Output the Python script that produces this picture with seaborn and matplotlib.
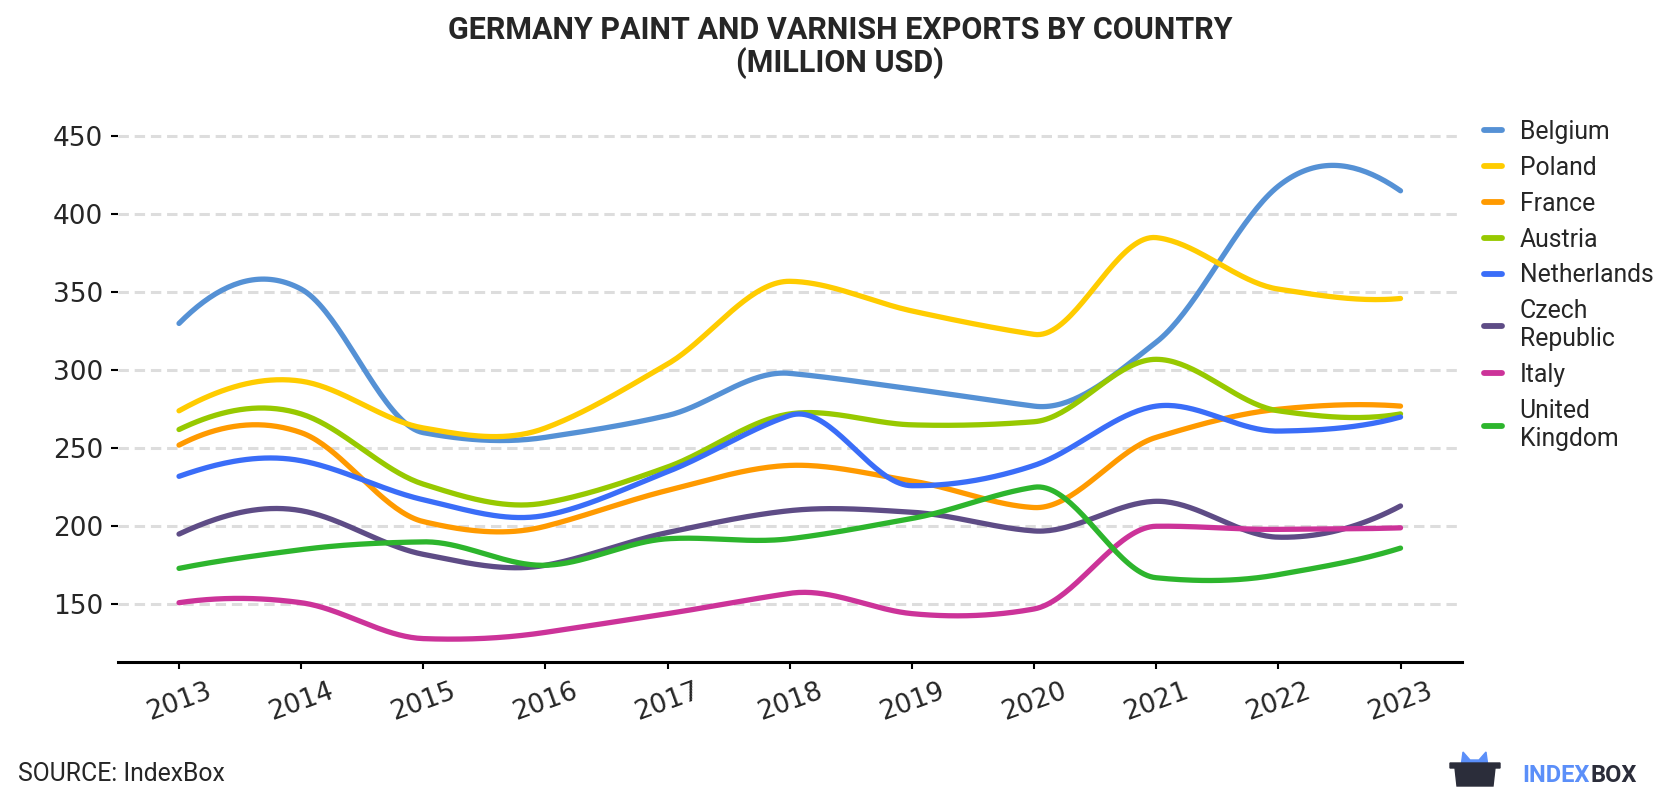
import numpy as np
import pandas as pd
import matplotlib
matplotlib.use("Agg")
import matplotlib.pyplot as plt
from matplotlib.patches import Polygon
from matplotlib.lines import Line2D
import seaborn as sns

years = [2013, 2014, 2015, 2016, 2017, 2018, 2019, 2020, 2021, 2022, 2023]

countries = ["Belgium", "Poland", "France", "Austria", "Netherlands",
             "Czech Republic", "Italy", "United Kingdom"]
legend_labels = ["Belgium", "Poland", "France", "Austria", "Netherlands",
                 "Czech\nRepublic", "Italy", "United\nKingdom"]

belgium = [330, 352, 260, 257, 271, 298, 288, 277, 318, 418, 415]
poland = [274, 293, 263, 263, 304, 357, 338, 323, 385, 352, 346]
france = [252, 260, 203, 200, 223, 239, 229, 212, 257, 275, 277]
austria = [262, 272, 227, 215, 238, 272, 265, 267, 307, 274, 272]
netherlands = [232, 242, 217, 207, 235, 271, 226, 239, 277, 261, 270]
czech = [195, 210, 182, 175, 196, 210, 209, 197, 216, 193, 213]
italy = [151, 151, 128, 132, 144, 157, 144, 147, 200, 198, 199]
uk = [173, 185, 190, 175, 192, 192, 205, 225, 167, 169, 186]

colors = ["#5591d5", "#ffcc00", "#ff9a00", "#97c900", "#3a6df8",
          "#5e4c86", "#cc3399", "#2db52d"]

series = [belgium, poland, france, austria, netherlands, czech, italy, uk]


def akima(x, y, n=40):
    # Akima spline through the yearly points, only used to draw the curve
    x = np.asarray(x, float)
    y = np.asarray(y, float)
    h = np.diff(x)
    m = np.diff(y) / h
    m = np.concatenate([[3 * m[0] - 2 * m[1], 2 * m[0] - m[1]], m,
                        [2 * m[-1] - m[-2], 3 * m[-1] - 2 * m[-2]]])
    t = np.zeros(len(x))
    for i in range(len(x)):
        w1 = abs(m[i + 3] - m[i + 2])
        w2 = abs(m[i + 1] - m[i])
        if w1 + w2 == 0:
            t[i] = (m[i + 1] + m[i + 2]) / 2
        else:
            t[i] = (w1 * m[i + 1] + w2 * m[i + 2]) / (w1 + w2)
    xs, ys = [], []
    for i in range(len(x) - 1):
        s = np.linspace(0, 1, n, endpoint=(i == len(x) - 2))
        h00 = 2 * s ** 3 - 3 * s ** 2 + 1
        h10 = s ** 3 - 2 * s ** 2 + s
        h01 = -2 * s ** 3 + 3 * s ** 2
        h11 = s ** 3 - s ** 2
        xs.append(x[i] + s * h[i])
        ys.append(h00 * y[i] + h10 * h[i] * t[i] + h01 * y[i + 1] + h11 * h[i] * t[i + 1])
    return np.concatenate(xs), np.concatenate(ys)


frames = []
for name, vals in zip(countries, series):
    sx, sy = akima(years, vals)
    frames.append(pd.DataFrame({"year": sx, "value": sy, "country": name}))
df = pd.concat(frames, ignore_index=True)

sns.set_style("white")
plt.rcParams["font.family"] = ["DejaVu Sans"]

fig = plt.figure(figsize=(16.8, 8.0), dpi=100)
ax = fig.add_axes([0.0702, 0.1725, 0.7998, 0.6865])

sns.lineplot(data=df, x="year", y="value", hue="country", hue_order=countries,
             palette=dict(zip(countries, colors)), linewidth=3.8, legend=False,
             ax=ax, sort=False, estimator=None)

ax.set_xlim(2012.5, 2023.5)
ax.set_ylim(113, 465)
ax.set_xticks(years)
ax.set_yticks([150, 200, 250, 300, 350, 400, 450])
ax.set_xlabel("")
ax.set_ylabel("")

ax.grid(axis="y", color="#dddddd", linestyle=(0, (3.4, 1.9)), linewidth=2.2)
ax.grid(axis="x", visible=False)
ax.set_axisbelow(True)
for s in ["top", "right", "left"]:
    ax.spines[s].set_visible(False)
ax.spines["bottom"].set_color("black")
ax.spines["bottom"].set_linewidth(2.2)

ax.tick_params(axis="y", length=5, width=1.5, color="black", pad=5.5,
               labelsize=19, left=True)
ax.tick_params(axis="x", length=5, width=1.5, color="black", pad=7,
               labelsize=19, bottom=True)
for lab in ax.get_xticklabels():
    lab.set_rotation(20)
    lab.set_ha("center")

handles = [Line2D([0], [0], color=c, linewidth=4.2) for c in colors]
leg = fig.legend(handles, legend_labels, loc="upper left",
                 bbox_to_anchor=(1484 / 1680, 1 - 120 / 800),
                 frameon=False, handlelength=0.72, handletextpad=0.72,
                 labelspacing=0.48, borderpad=0, borderaxespad=0,
                 prop={"family": "Roboto", "size": 17.8})

fig.text(0.5, 1 - 30 / 800, "GERMANY PAINT AND VARNISH EXPORTS BY COUNTRY",
         ha="center", va="center", fontsize=22, fontweight="bold",
         family="Roboto")
fig.text(0.5, 1 - 63 / 800, "(MILLION USD)", ha="center", va="center",
         fontsize=22, fontweight="bold", family="Roboto")

fig.text(18 / 1680, 1 - 774 / 800, "SOURCE: IndexBox", ha="left", va="center",
         fontsize=17.8, family="Roboto")


# logo
def fx(x):
    return x / 1680


def fy(y):
    return 1 - y / 800


body = [(1450, 763), (1500, 763), (1500, 768), (1495, 768), (1493, 786),
        (1457, 786), (1455, 768), (1450, 768)]
crown = [(1461, 767), (1463, 752), (1470, 760), (1479, 760), (1486, 752),
         (1488, 767)]
fig.add_artist(Polygon([(fx(a), fy(b)) for a, b in crown], closed=True,
                       transform=fig.transFigure, color="#5b8ff9"))
fig.add_artist(Polygon([(fx(a), fy(b)) for a, b in body], closed=True,
                       transform=fig.transFigure, color="#2b2d3a"))
fig.text(fx(1590), fy(775), "INDEX", ha="right", va="center", fontsize=17,
         fontweight="bold", family="Roboto", color="#5b8ff9")
fig.text(fx(1590), fy(775), "BOX", ha="left", va="center", fontsize=17,
         fontweight="bold", family="Roboto", color="#2b2d3a")

fig.savefig("out.png", dpi=100, facecolor="white")
